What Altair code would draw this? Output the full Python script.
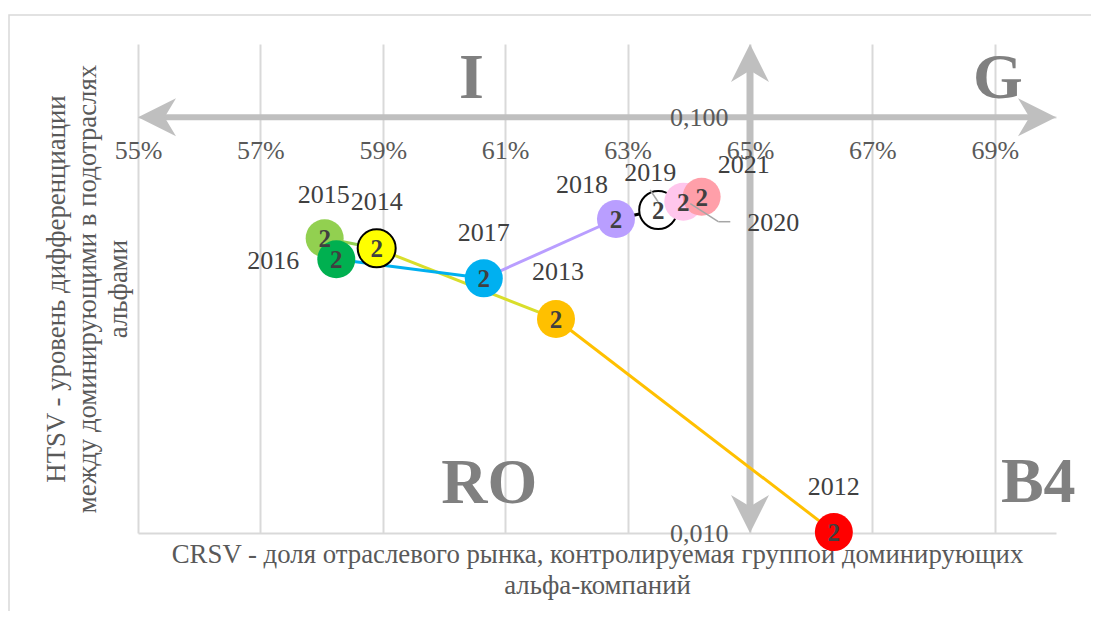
import math
import altair as alt
import pandas as pd

# ---------------- data ----------------
years = [2012, 2013, 2014, 2015, 2016, 2017, 2018, 2019, 2020, 2021]
crsv = [0.6637, 0.6183, 0.5890, 0.5805, 0.5824, 0.6065, 0.6281, 0.6350, 0.6391, 0.6421]
htsv = [0.01005, 0.03272, 0.04838, 0.05114, 0.04553, 0.04097, 0.05691, 0.05982, 0.06263, 0.06439]
bubble_text = ["2", "2", "2", "2", "2", "2", "2", "2", "2", "2"]

x_tick_values = [0.55, 0.57, 0.59, 0.61, 0.63, 0.65, 0.67, 0.69]
y_tick_values = [0.01, 0.1]
x_domain = [0.55, 0.70]
y_domain = [0.01, 0.15]
x_cross = 0.65
y_cross = 0.1

quadrant_names = ["I", "G", "RO", "B4"]
quadrant_x = [0.6045, 0.6905, 0.6074, 0.6971]
quadrant_y = [0.111, 0.111, 0.0118, 0.0119]

x_title = ["CRSV - доля отраслевого рынка, контролируемая группой доминирующих",
           "альфа-компаний"]
y_title = ["HTSV - уровень дифференциации",
           "между доминирующими в подотраслях",
           "альфами"]

# ---------------- style ----------------
W, H = 918, 489
SERIF = "Liberation Serif"
GRID = "#D9D9D9"
ARROW = "#BFBFBF"
fill_colors = ["#FF0000", "#FFC000", "#FFFF00", "#92D050", "#00B050",
               "#00B0F0", "#B99EFF", "#FFFFFF", "#FFC6EC", "#FF9FA9"]
stroke_colors = ["transparent", "transparent", "#000000", "transparent", "transparent",
                 "transparent", "transparent", "#000000", "transparent", "transparent"]
seg_colors = ["#FFC000", "#D9DE2B", "#92D050", "#00B050", "#00B0F0",
              "#B99EFF", "#000000", "#FFC6EC", "#FF9FA9"]
label_offsets = {2012: (0, -45), 2013: (2, -47), 2014: (0, -46), 2015: (-1, -43),
                 2016: (-63, 2), 2017: (0, -45), 2018: (-34, -34), 2019: (-8, -37),
                 2020: (90, 21), 2021: (42, -32)}
leaders = [(2019, -8, -20, 0, -8), (2020, 7, 2, 35, 20), (2020, 35, 20, 47, 20)]

xc_px = W * (x_cross - x_domain[0]) / (x_domain[1] - x_domain[0])
yc_px = H * math.log(y_domain[1] / y_cross) / math.log(y_domain[1] / y_domain[0])

xs = alt.Scale(domain=x_domain, nice=False, zero=False)
ys = alt.Scale(type="log", domain=y_domain, nice=False)


def X(field="x", axis=None):
    return alt.X(f"{field}:Q", scale=xs, axis=axis)


def Y(field="y", axis=None):
    return alt.Y(f"{field}:Q", scale=ys, axis=axis)


grid_x_axis = alt.Axis(values=x_tick_values, grid=True, gridColor=GRID, gridWidth=2,
                       labels=False, ticks=False, domain=False, title=None, zindex=0)
grid_y_axis = alt.Axis(values=y_tick_values, grid=True, gridColor=GRID, gridWidth=2,
                       labels=False, ticks=False, domain=False, title=None, zindex=0)
label_x_axis = alt.Axis(orient="bottom", offset=-(H - yc_px), values=x_tick_values,
                        format=".0%", grid=False, ticks=False, domain=False,
                        labelFont=SERIF, labelFontSize=26, labelColor="#595959",
                        labelPadding=20, labelFlush=False, labelOverlap=False,
                        title=None, zindex=1)
label_y_axis = alt.Axis(orient="left", offset=-xc_px, values=y_tick_values,
                        labelExpr="replace(format(datum.value, '.3f'), '.', ',')",
                        grid=False, ticks=False, domain=False,
                        labelFont=SERIF, labelFontSize=26, labelColor="#595959",
                        labelPadding=22, labelFlush=False, labelOverlap=False,
                        title=None, zindex=1)
title_x_axis = alt.Axis(orient="bottom", labels=False, ticks=False, domain=False, grid=False,
                        title=x_title, titleFont=SERIF, titleFontSize=26.8,
                        titleFontWeight="normal", titleColor="#595959",
                        titlePadding=8, titleLineHeight=31, minExtent=0)
title_y_axis = alt.Axis(orient="left", labels=False, ticks=False, domain=False, grid=False,
                        title=y_title, titleFont=SERIF, titleFontSize=26.8,
                        titleFontWeight="normal", titleColor="#595959",
                        titlePadding=6, titleLineHeight=31, minExtent=0)

# ---------------- tables ----------------
ystr = [str(v) for v in years]
pts = pd.DataFrame({"year": ystr, "x": crsv, "y": htsv, "txt": bubble_text})

seg_rows = []
for i in range(1, len(years)):
    seg_rows.append({"seg": ystr[i], "o": 0, "x": crsv[i - 1], "y": htsv[i - 1]})
    seg_rows.append({"seg": ystr[i], "o": 1, "x": crsv[i], "y": htsv[i]})
segs = pd.DataFrame(seg_rows)

# ---------------- layers ----------------
border = alt.Chart(pd.DataFrame({"a": [0]})).mark_rect(
    fill="transparent", stroke=GRID, strokeWidth=1.5
).encode(x=alt.value(-129), y=alt.value(-29), x2=alt.value(1400), y2=alt.value(1000))

hshaft = alt.Chart(pd.DataFrame({"x": [x_domain[0]], "x2": [x_domain[1]], "y": [y_cross]})).mark_rule(
    color=ARROW, strokeWidth=6, xOffset=22, x2Offset=-22
).encode(x=X(axis=grid_x_axis), x2="x2:Q", y=Y(axis=grid_y_axis))

vshaft = alt.Chart(pd.DataFrame({"x": [x_cross], "y": [y_domain[0]], "y2": [y_domain[1]]})).mark_rule(
    color=ARROW, strokeWidth=7, yOffset=-22, y2Offset=22
).encode(x=X(), y=Y(), y2="y2:Q")

head_df = pd.DataFrame({
    "dir": ["left", "right", "up", "down"],
    "x": [x_domain[0], x_domain[1], x_cross, x_cross],
    "y": [y_cross, y_cross, y_domain[1], y_domain[0]],
})
heads = alt.Chart(head_df).mark_point(filled=True, opacity=1, size=1444, color=ARROW).encode(
    x=X(), y=Y(),
    shape=alt.Shape("dir:N", legend=None, scale=alt.Scale(
        domain=["left", "right", "up", "down"],
        range=["M0,0L2,-1L1.4,0L2,1Z", "M0,0L-2,-1L-1.4,0L-2,1Z",
               "M0,0L-1,2L0,1.4L1,2Z", "M0,0L-1,-2L0,-1.4L1,-2Z"])),
)

lines = alt.Chart(segs).mark_line(strokeWidth=3).encode(
    x=X(axis=title_x_axis), y=Y(axis=title_y_axis),
    color=alt.Color("seg:N", legend=None, scale=alt.Scale(domain=ystr[1:], range=seg_colors)),
    detail="seg:N", order="o:Q",
)

points = alt.Chart(pts).mark_circle(size=1444, opacity=1, strokeWidth=2).encode(
    x=X(axis=label_x_axis), y=Y(axis=label_y_axis),
    fill=alt.Fill("year:N", legend=None, scale=alt.Scale(domain=ystr, range=fill_colors)),
    stroke=alt.Stroke("year:N", legend=None, scale=alt.Scale(domain=ystr, range=stroke_colors)),
)

bubble_labels = alt.Chart(pts).mark_text(
    font=SERIF, fontSize=25, fontWeight="bold", color="#404040", baseline="middle", dy=1
).encode(x=X(), y=Y(), text="txt:N")

leader_layers = []
for yr, ax, ay, bx, by in leaders:
    i = years.index(yr)
    d = pd.DataFrame({"x": [crsv[i]], "y": [htsv[i]]})
    leader_layers.append(
        alt.Chart(d).mark_rule(color="#A6A6A6", strokeWidth=1.5, xOffset=ax, yOffset=ay,
                               x2Offset=bx, y2Offset=by)
        .encode(x=X(), y=Y(), x2="x:Q", y2="y:Q")
    )

year_layers = []
for yr, (dx, dy) in label_offsets.items():
    i = years.index(yr)
    d = pd.DataFrame({"x": [crsv[i]], "y": [htsv[i]], "label": [str(yr)]})
    year_layers.append(
        alt.Chart(d).mark_text(dx=dx, dy=dy, font=SERIF, fontSize=26, color="#404040",
                               baseline="middle")
        .encode(x=X(), y=Y(), text="label:N")
    )

quad = alt.Chart(pd.DataFrame({"name": quadrant_names, "x": quadrant_x, "y": quadrant_y})).mark_text(
    font=SERIF, fontSize=64, fontWeight="bold", color="#808080", baseline="alphabetic", align="center"
).encode(x=X(), y=Y(), text="name:N")

chart = alt.layer(
    border, hshaft, vshaft, heads, lines, points, bubble_labels,
    *leader_layers, *year_layers, quad
).resolve_axis(x="independent", y="independent").properties(
    width=W, height=H,
    autosize=alt.AutoSizeParams(type="none"),
    padding={"left": 130, "top": 36, "right": 35, "bottom": 78},
).configure(font=SERIF).configure_view(stroke=None)

chart.save("out.html", embed_options={"renderer": "svg", "actions": False})
